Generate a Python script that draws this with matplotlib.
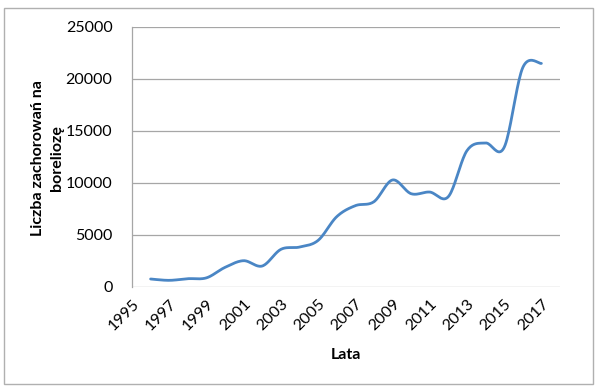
import numpy as np
import matplotlib.pyplot as plt
from matplotlib.patches import Rectangle

plt.rcParams['font.family'] = ['Lato', 'DejaVu Sans']

# Data
years = [1996, 1997, 1998, 1999, 2000, 2001, 2002, 2003, 2004, 2005, 2006,
         2007, 2008, 2009, 2010, 2011, 2012, 2013, 2014, 2015, 2016, 2017]
cases = [770, 640, 800, 880, 1890, 2530, 2020, 3620, 3840, 4480, 6760,
         7820, 8200, 10290, 8970, 9130, 8690, 13110, 13850, 13430, 21100, 21500]
x_ticks = list(range(1995, 2018, 2))
y_ticks = [0, 5000, 10000, 15000, 20000, 25000]


# Excel-like smoothed line (Catmull-Rom through the data points)
def smooth_line(x, y, steps=20):
    x = np.asarray(x, dtype=float)
    y = np.asarray(y, dtype=float)
    px = np.concatenate([[x[0]], x, [x[-1]]])
    py = np.concatenate([[y[0]], y, [y[-1]]])
    xs, ys = [], []
    t = np.linspace(0, 1, steps, endpoint=False)
    for i in range(1, len(px) - 2):
        for p, out in ((px, xs), (py, ys)):
            p0, p1, p2, p3 = p[i - 1], p[i], p[i + 1], p[i + 2]
            c1 = p1 + (p2 - p0) / 6
            c2 = p2 - (p3 - p1) / 6
            out.extend((1 - t) ** 3 * p1 + 3 * (1 - t) ** 2 * t * c1
                       + 3 * (1 - t) * t ** 2 * c2 + t ** 3 * p2)
    xs.append(x[-1])
    ys.append(y[-1])
    return np.array(xs), np.array(ys)


fig = plt.figure(figsize=(6, 3.89), dpi=100)
ax = fig.add_axes([132 / 600, 1 - 287 / 389, 428 / 600, 260 / 389])

sx, sy = smooth_line(years, cases)
ax.plot(sx, sy, color='#4a86c5', linewidth=2.0, solid_capstyle='round')

ax.set_xlim(1995, 2018)
ax.set_ylim(0, 25000)
ax.set_xticks(x_ticks)
ax.set_yticks(y_ticks)
ax.grid(axis='y', color='#a6a6a6', linewidth=0.9)
ax.set_axisbelow(True)
for side in ['top', 'right', 'bottom']:
    ax.spines[side].set_visible(False)
ax.spines['left'].set_color('#a6a6a6')
ax.spines['left'].set_linewidth(0.9)
ax.tick_params(length=0, labelsize=11.5, colors='black')
ax.tick_params(axis='y', pad=14)
ax.tick_params(axis='x', pad=7)
for lab in ax.get_xticklabels():
    lab.set_rotation(45)
    lab.set_ha('right')
    lab.set_va('top')
    lab.set_rotation_mode('anchor')

ax.set_xlabel('Lata', fontsize=11.5, fontweight='bold', labelpad=11)
fig.text(47.5 / 600, 1 - 158 / 389, 'Liczba zachorowań na\nboreliozę',
         rotation=90, ha='center', va='center', fontsize=11.5,
         fontweight='bold', linespacing=1.4, multialignment='center')

# outer chart frame
fig.patches.append(Rectangle((4 / 600, 1 - 384 / 389), 589 / 600, 376 / 389,
                             transform=fig.transFigure, fill=False,
                             edgecolor='#b0b0b0', linewidth=1.0))

fig.savefig('out.png', dpi=100)
